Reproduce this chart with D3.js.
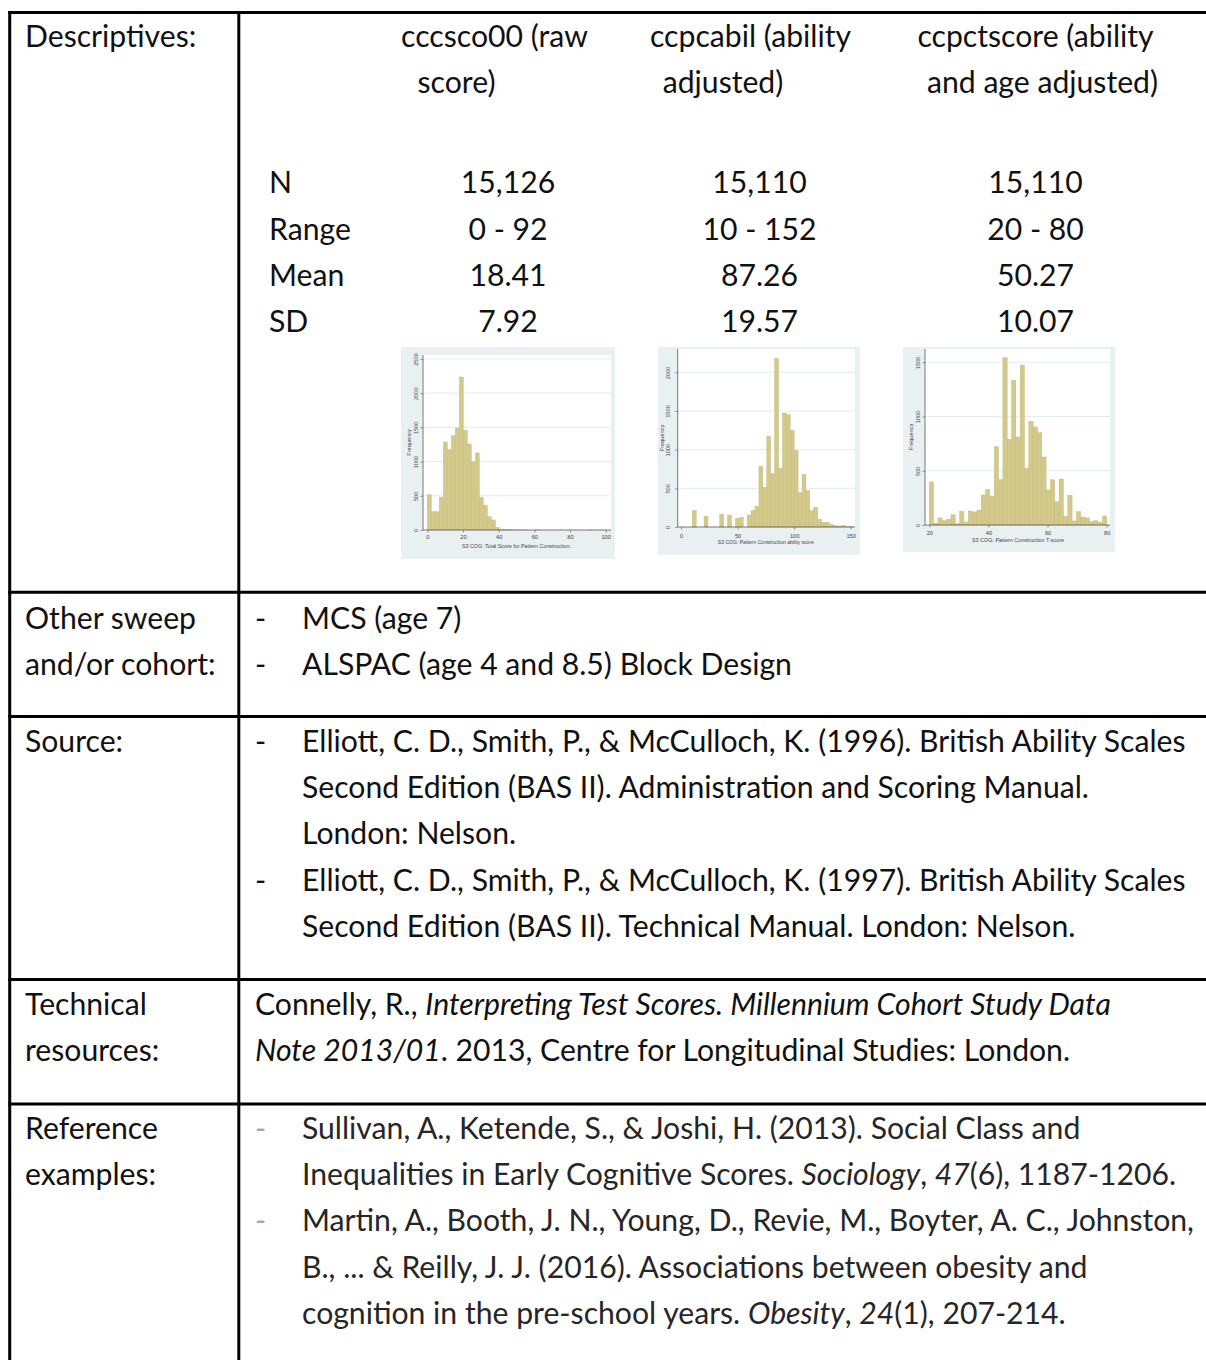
<!DOCTYPE html>
<html><head><meta charset="utf-8">
<script src="https://cdn.jsdelivr.net/npm/d3@7"></script>
<style>body{margin:0;background:#fff}svg{display:block}text{white-space:pre}</style>
</head><body>
<svg id="c" width="1206" height="1360"></svg>
<script>
// ---------------- data ----------------
const rowLabels = [["Descriptives:"], ["Other sweep", "and/or cohort:"], ["Source:"], ["Technical", "resources:"], ["Reference", "examples:"]];
const varHeaders = [["cccsco00 (raw", "score)"], ["ccpcabil (ability", "adjusted)"], ["ccpctscore (ability", "and age adjusted)"]];
const statLabels = ["N", "Range", "Mean", "SD"];
const statCol1 = ["15,126", "0 - 92", "18.41", "7.92"];
const statCol2 = ["15,110", "10 - 152", "87.26", "19.57"];
const statCol3 = ["15,110", "20 - 80", "50.27", "10.07"];

const hist1Counts = [515, 268, 268, 478, 1287, 1175, 1379, 1491, 2237, 1457, 1257, 999, 1126, 478, 361, 195, 146, 39,
  12, 6, 3, 2, 1, 1, 1, 0, 0, 1, 0, 0, 0, 0, 0, 0, 0, 0, 0, 0, 0, 0, 1];
const hist2Counts = [215, 0, 0, 140, 0, 0, 0, 165, 0, 155, 0, 112, 125, 0, 155, 215, 267, 784, 513, 1172, 690,
  2180, 759, 1474, 1452, 1250, 991, 444, 681, 470, 211, 254, 99, 60, 60, 34, 17, 8, 22, 3, 5];
const hist3Counts = [397, 18, 65, 40, 52, 95, 12, 126, 28, 129, 120, 138, 277, 326, 267, 722, 418, 1543, 790, 1334,
  811, 1475, 525, 956, 904, 851, 627, 323, 418, 215, 424, 80, 274, 37, 123, 74, 65, 31, 40, 25, 83];
const histRanges = [[0, 92], [10, 152], [20, 80]];
const histXTicks = [[0, 20, 40, 60, 80, 100], [0, 50, 100, 150], [20, 40, 60, 80]];
const histYTicks = [[0, 500, 1000, 1500, 2000, 2500], [0, 500, 1000, 1500, 2000], [0, 500, 1000, 1500]];
const histXTitles = ["S3 COG: Total Score for Pattern Construction.", "S3 COG: Pattern Construction ability score", "S3 COG: Pattern Construction T-score"];
const histYTitle = "Frequency";

const otherSweep = ["MCS (age 7)", "ALSPAC (age 4 and 8.5) Block Design"];
const sourceRefs = [
  ["Elliott, C. D., Smith, P., & McCulloch, K. (1996). British Ability Scales", "Second Edition (BAS II). Administration and Scoring Manual.", "London: Nelson."],
  ["Elliott, C. D., Smith, P., & McCulloch, K. (1997). British Ability Scales", "Second Edition (BAS II). Technical Manual. London: Nelson."]
];
const technicalLines = [
  [["Connelly, R., ", 0], ["Interpreting Test Scores. Millennium Cohort Study Data", 1]],
  [["Note 2013/01", 1], [". 2013, Centre for Longitudinal Studies: London.", 0]]
];
const referenceRefs = [
  [[["Sullivan, A., Ketende, S., & Joshi, H. (2013). Social Class and", 0]],
   [["Inequalities in Early Cognitive Scores. ", 0], ["Sociology", 1], [", ", 0], ["47", 1], ["(6), 1187-1206.", 0]]],
  [[["Martin, A., Booth, J. N., Young, D., Revie, M., Boyter, A. C., Johnston,", 0]],
   [["B., ... & Reilly, J. J. (2016). Associations between obesity and", 0]],
   [["cognition in the pre-school years. ", 0], ["Obesity", 1], [", ", 0], ["24", 1], ["(1), 207-214.", 0]]]
];

// ---------------- drawing ----------------
const svg = d3.select("#c");
const FONT = "Lato, 'Noto Sans', sans-serif";
const INK = "#111";

// fit font size so the long source line matches the reference width (884px)
const probe = svg.append("text").attr("font-family", FONT).attr("font-size", 100).text(sourceRefs[0][0]);
const fs = 100 * 884 / probe.node().getComputedTextLength();
probe.remove();

const tg = svg.append("g").attr("font-family", FONT).attr("font-size", fs).attr("fill", INK);
function plain(x, y, s, anchor, color) {
  return tg.append("text").attr("x", x).attr("y", y).attr("text-anchor", anchor || "start")
    .attr("fill", color || INK).text(s);
}
function rich(x, y, segs, color) {
  const t = tg.append("text").attr("x", x).attr("y", y).attr("fill", color || INK);
  segs.forEach(s => t.append("tspan").attr("font-style", s[1] ? "italic" : null).text(s[0]));
}
const pitch = 46.2;
const dY = 2;

// row labels (left column)
const rowLabelY = [45, 627, 750, 1013, 1137];
rowLabels.forEach((ls, r) => ls.forEach((s, k) => plain(25, rowLabelY[r] + dY + k * pitch, s)));

// variable headers
const headerCx = [[494.5, 456.5], [750.5, 723], [1035.5, 1042.5]];
varHeaders.forEach((ls, c) => ls.forEach((s, k) => plain(headerCx[c][k], 45 + dY + k * pitch, s, "middle")));

// stats
const statY = [191, 238, 284, 330];
const statCols = [statCol1, statCol2, statCol3];
const statCx = [508, 759.5, 1035.5];
statLabels.forEach((s, i) => plain(269, statY[i] + dY, s));
statCols.forEach((col, c) => col.forEach((s, i) => plain(statCx[c], statY[i] + dY, s, "middle")));

// other sweep
otherSweep.forEach((s, i) => { plain(255, 627 + dY + i * pitch, "-"); plain(302, 627 + dY + i * pitch, s); });

// sources
let yy = 750 + dY;
sourceRefs.forEach(ref => {
  plain(255, yy, "-");
  ref.forEach(s => { plain(302, yy, s); yy += pitch; });
});

// technical resources
technicalLines.forEach((segs, i) => rich(255, 1013 + dY + i * pitch, segs));

// references
yy = 1137 + dY;
const REFINK = "#262626";
referenceRefs.forEach(ref => {
  plain(255, yy, "-", "start", "#a6a6a6");
  ref.forEach(segs => { rich(302, yy, segs, REFINK); yy += pitch; });
});

// table rules
const lines = svg.append("g").attr("stroke", "#000").attr("stroke-width", 3);
[12.5, 592.2, 716.5, 979.5, 1104].forEach(y => lines.append("line").attr("x1", 8.2).attr("x2", 1206).attr("y1", y).attr("y2", y));
[9.7, 238.8].forEach(x => lines.append("line").attr("x1", x).attr("x2", x).attr("y1", 11).attr("y2", 1360));

// ---------------- histograms ----------------
const histCounts = [hist1Counts, hist2Counts, hist3Counts];
const histLayout = [
  { panel: [401, 347, 615, 559], plot: [423, 355, 611, 530], xr: [427.3, 605.7], yr: [530, 359], xdom: [0, 100], ydom: [0, 2500], ylabX: 416.3, ytitleX: 409.7, xlabY: 537.7, xtitleY: 546.7, tw: 109 },
  { panel: [658, 347, 860, 555], plot: [677.7, 349, 855, 527], xr: [681, 850.7], yr: [527, 372.3], xdom: [0, 150], ydom: [0, 2000], ylabX: 668, ytitleX: 663, xlabY: 536.7, xtitleY: 543, tw: 96 },
  { panel: [903, 347, 1115, 552], plot: [925, 349, 1110, 525], xr: [929.3, 1106.7], yr: [525, 362.3], xdom: [20, 80], ydom: [0, 1500], ylabX: 918, ytitleX: 911.7, xlabY: 533.3, xtitleY: 540.3, tw: 92 }
];
const SMALL = "'Liberation Sans', Arial, sans-serif";

histLayout.forEach((L, h) => {
  const g = svg.append("g");
  const counts = histCounts[h];
  const [lo, hi] = histRanges[h];
  const bw = (hi - lo) / counts.length;
  const x = d3.scaleLinear().domain(L.xdom).range(L.xr);
  const y = d3.scaleLinear().domain(L.ydom).range(L.yr);

  g.append("rect").attr("x", L.panel[0]).attr("y", L.panel[1]).attr("width", L.panel[2] - L.panel[0]).attr("height", L.panel[3] - L.panel[1]).attr("fill", "#e9f0f2");
  g.append("rect").attr("x", L.plot[0]).attr("y", L.plot[1]).attr("width", L.plot[2] - L.plot[0]).attr("height", L.plot[3] - L.plot[1]).attr("fill", "#fff");

  // gridlines
  g.append("g").selectAll("line").data(histYTicks[h].filter(v => v > 0)).join("line")
    .attr("x1", L.plot[0]).attr("x2", L.plot[2]).attr("y1", d => y(d)).attr("y2", d => y(d))
    .attr("stroke", "#e2ebee").attr("stroke-width", 1);

  // bars
  g.append("g").selectAll("rect").data(counts).join("rect")
    .attr("x", (d, i) => x(lo + i * bw))
    .attr("width", (d, i) => x(lo + (i + 1) * bw) - x(lo + i * bw))
    .attr("y", d => y(d)).attr("height", d => L.yr[0] - y(d))
    .attr("fill", "#d3c98b").attr("stroke", "#c4b874").attr("stroke-width", 0.4);

  // axes
  const yAx = g.append("g").attr("transform", `translate(${L.plot[0]},0)`)
    .call(d3.axisLeft(y).tickValues(histYTicks[h]).tickSize(2.5).tickSizeOuter(0).tickFormat(d3.format("d")));
  yAx.select(".domain").remove();
  yAx.selectAll("line").attr("stroke", "#555").attr("stroke-width", 0.6);
  yAx.selectAll("text").attr("x", null).attr("dy", null)
    .attr("transform", `translate(${L.ylabX - L.plot[0]},0) rotate(-90)`)
    .attr("text-anchor", "middle").attr("dominant-baseline", "middle")
    .attr("font-family", SMALL).attr("font-size", 5.7).attr("fill", "#444");

  const xAx = g.append("g").attr("transform", `translate(0,${L.plot[3]})`)
    .call(d3.axisBottom(x).tickValues(histXTicks[h]).tickSize(2.5).tickSizeOuter(0).tickFormat(d3.format("d")));
  xAx.select(".domain").remove();
  xAx.selectAll("line").attr("stroke", "#555").attr("stroke-width", 0.6);
  xAx.selectAll("text").attr("y", L.xlabY - L.plot[3]).attr("dy", null).attr("dominant-baseline", "middle")
    .attr("font-family", SMALL).attr("font-size", 5.7).attr("fill", "#444");

  g.append("line").attr("x1", L.plot[0]).attr("x2", L.plot[0]).attr("y1", L.plot[1]).attr("y2", L.plot[3]).attr("stroke", "#555").attr("stroke-width", 0.8);
  g.append("line").attr("x1", L.plot[0]).attr("x2", L.plot[2]).attr("y1", L.plot[3]).attr("y2", L.plot[3]).attr("stroke", "#555").attr("stroke-width", 0.8);

  // titles
  g.append("text").attr("transform", `translate(${L.ytitleX},${(L.plot[1] + L.plot[3]) / 2}) rotate(-90)`)
    .attr("text-anchor", "middle").attr("dominant-baseline", "middle")
    .attr("font-family", SMALL).attr("font-size", 5.6).attr("fill", "#444").text(histYTitle);
  g.append("text").attr("x", (L.xr[0] + L.xr[1]) / 2).attr("y", L.xtitleY)
    .attr("text-anchor", "middle").attr("dominant-baseline", "middle")
    .attr("font-family", SMALL).attr("font-size", 5.6).attr("fill", "#444")
    .attr("textLength", L.tw).attr("lengthAdjust", "spacingAndGlyphs").text(histXTitles[h]);
});
</script>
</body></html>
